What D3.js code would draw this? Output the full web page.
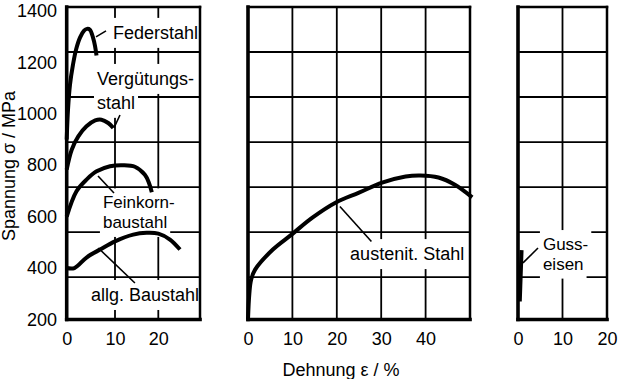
<!DOCTYPE html>
<html>
<head>
<meta charset="utf-8">
<script src="https://cdn.jsdelivr.net/npm/d3@7"></script>
<style>
  html, body { margin: 0; padding: 0; background: #fff; }
  svg { display: block; }
  text { font-family: "Liberation Sans", Arial, Helvetica, sans-serif; font-size: 18px; fill: #000; }
</style>
</head>
<body>
<svg id="chart" width="618" height="379"></svg>
<script>
// ---------- DATA ----------
const yTicks = [200, 400, 600, 800, 1000, 1200, 1400];
const yGridValues = [365, 540, 715, 890, 1065, 1240];
const yDomain = [200, 1415];

const xTicksLeft = [0, 10, 20];
const xTicksMiddle = [0, 10, 20, 30, 40];
const xTicksRight = [0, 10, 20];
const xGridLeft = [10, 20];
const xGridMiddle = [10, 20, 30, 40];
const xGridRight = [10];

// [Dehnung %, Spannung MPa]
const federstahl = [[0, 900], [0.27, 1016], [0.68, 1113], [1.3, 1191], [1.93, 1249], [2.75, 1296], [3.6, 1323], [4.2, 1330], [4.8, 1327], [5.45, 1296], [5.86, 1264], [6.17, 1226]];
const verguetungsstahl = [[0, 783], [1.04, 860], [2.4, 912], [4.1, 951], [5.9, 974], [7.2, 977], [8.6, 964], [9.65, 945]];
const feinkornbaustahl = [[0, 600], [2.0, 698], [4.1, 744], [6.2, 776], [8.97, 796], [11.85, 800], [14.6, 794], [16.9, 763], [17.85, 731], [18.5, 695]];
const allgBaustahl = [[0, 400], [1.6, 400], [4.1, 441], [6.9, 472], [10, 504], [14.2, 530], [17.3, 537], [20, 534], [22.8, 511], [25.2, 472]];
const austenitStahl = [[0, 200], [0.3, 300], [0.7, 355], [1.6, 394], [5.6, 472], [9.8, 530], [14.5, 596], [19.8, 655], [25, 693], [30.2, 732], [35.5, 756], [38.8, 760], [42.9, 752], [46.6, 724], [50.5, 675]];
const gusseisen = [[0.4, 270], [0.6, 370], [0.8, 470]];

const seriesNames = ["Federstahl", "Vergütungsstahl", "Feinkornbaustahl", "allg. Baustahl", "austenit. Stahl", "Gusseisen"];

// label anchors (data units) and leader lines
const labelTexts = [["Federstahl"], ["Vergütungs-", "stahl"], ["Feinkorn-", "baustahl"], ["allg. Baustahl"], ["austenit. Stahl"], ["Guss-", "eisen"]];
const labelX = [9.59, 6.27, 7.5, 5.03, 23, 5.6];
const labelY = [[1291], [1112, 1019], [632, 556], [272], [431], [470, 394]];
const leaders = [
  [6.07, 1299, 8.14, 1322],
  [9.79, 945, 11.15, 995],
  [6.48, 758, 9.79, 692],
  [6.54, 478, 14.6, 342],
  [20.7, 639, 27.8, 503],
  [1.12, 420, 4.5, 478]
];

// ---------- LAYOUT ----------
const layout = {
  yRange: [319.5, 7],
  panels: [
    { domain: [0, 10, 20, 30], range: [66.7, 115, 158.3, 200], ticks: xTicksLeft, grid: xGridLeft },
    { domain: [0, 50], range: [248, 470], ticks: xTicksMiddle, grid: xGridMiddle },
    { domain: [0, 20], range: [518, 607], ticks: xTicksRight, grid: xGridRight }
  ]
};
const labelFont = [18, 18, 17, 18, 18, 17];
const seriesPanel = [0, 0, 0, 0, 1, 2];
const seriesData = [federstahl, verguetungsstahl, feinkornbaustahl, allgBaustahl, austenitStahl, gusseisen];

const svg = d3.select("#chart");
const y = d3.scaleLinear().domain(yDomain).range(layout.yRange);
const xs = layout.panels.map(p => d3.scaleLinear().domain(p.domain).range(p.range));

const gGrid = svg.append("g");
const gBoxes = svg.append("g");
const gFrame = svg.append("g");
const gCurves = svg.append("g");
const gLeaders = svg.append("g");
const gLabels = svg.append("g");
const gAxes = svg.append("g");

// grid
layout.panels.forEach((p, i) => {
  const x = xs[i];
  const [x0, x1] = [x.range()[0], x.range()[x.range().length - 1]];
  gGrid.selectAll(null).data(p.grid).join("line")
    .attr("x1", d => x(d)).attr("x2", d => x(d))
    .attr("y1", y(yDomain[0])).attr("y2", y(yDomain[1]))
    .attr("stroke", "#000").attr("stroke-width", 1.8);
  gGrid.selectAll(null).data(yGridValues).join("line")
    .attr("x1", x0).attr("x2", x1)
    .attr("y1", d => y(d)).attr("y2", d => y(d))
    .attr("stroke", "#000").attr("stroke-width", 1.8);

  // frame
  const yb = y(yDomain[0]), yt = y(yDomain[1]);
  gFrame.append("line").attr("x1", x0).attr("x2", x1).attr("y1", yt).attr("y2", yt)
    .attr("stroke", "#000").attr("stroke-width", 2.5).attr("stroke-linecap", "square");
  gFrame.append("line").attr("x1", x1).attr("x2", x1).attr("y1", yt).attr("y2", yb)
    .attr("stroke", "#000").attr("stroke-width", 2.5).attr("stroke-linecap", "square");
  gFrame.append("line").attr("x1", x0).attr("x2", x0).attr("y1", yt).attr("y2", yb)
    .attr("stroke", "#000").attr("stroke-width", 3.6).attr("stroke-linecap", "square");
  gFrame.append("line").attr("x1", x0).attr("x2", x1).attr("y1", yb).attr("y2", yb)
    .attr("stroke", "#000").attr("stroke-width", 3.6).attr("stroke-linecap", "square");

  // x axis tick labels
  const ax = d3.axisBottom(x).tickValues(p.ticks).tickSize(0).tickPadding(12.5).tickFormat(d3.format("d"));
  const g = gAxes.append("g").attr("transform", `translate(0,${yb})`).call(ax);
  g.select(".domain").remove();
  g.selectAll("text").attr("font-size", null).attr("font-family", null).attr("fill", "#000");
});

// y axis tick labels
const ay = d3.axisLeft(y).tickValues(yTicks).tickSize(0).tickPadding(9.7).tickFormat(d3.format("d"));
const gy = gAxes.append("g").attr("transform", `translate(${layout.panels[0].range[0]},0)`).call(ay);
gy.select(".domain").remove();
gy.selectAll("text").attr("font-size", null).attr("font-family", null).attr("fill", "#000");

// curves
const line = d3.line().curve(d3.curveCatmullRom.alpha(0.5));
seriesData.forEach((data, i) => {
  const x = xs[seriesPanel[i]];
  gCurves.append("path")
    .attr("d", line.x(d => x(d[0])).y(d => y(d[1]))(data))
    .attr("fill", "none").attr("stroke", "#000").attr("stroke-width", 4)
    .attr("stroke-linecap", "butt").attr("stroke-linejoin", "round")
    .append("title").text(seriesNames[i]);
});

// leaders
leaders.forEach((l, i) => {
  const x = xs[seriesPanel[i]];
  gLeaders.append("line")
    .attr("x1", x(l[0])).attr("y1", y(l[1])).attr("x2", x(l[2])).attr("y2", y(l[3]))
    .attr("stroke", "#000").attr("stroke-width", 1.6);
});

// labels with white boxes
labelTexts.forEach((lines, i) => {
  const x = xs[seriesPanel[i]];
  lines.forEach((t, j) => {
    const txt = gLabels.append("text")
      .attr("x", x(labelX[i])).attr("y", y(labelY[i][j]))
      .style("font-size", labelFont[i] + "px")
      .text(t);
    const bb = txt.node().getBBox();
    gBoxes.append("rect")
      .attr("x", bb.x - 3).attr("y", bb.y - 5)
      .attr("width", bb.width + 6).attr("height", bb.height + 10)
      .attr("fill", "#fff");
  });
});

// axis titles
svg.append("text")
  .attr("transform", `translate(15,166) rotate(-90)`)
  .attr("text-anchor", "middle")
  .text("Spannung σ / MPa");
svg.append("text")
  .attr("x", 341).attr("y", 376)
  .attr("text-anchor", "middle")
  .text("Dehnung ε / %");
</script>
</body>
</html>
